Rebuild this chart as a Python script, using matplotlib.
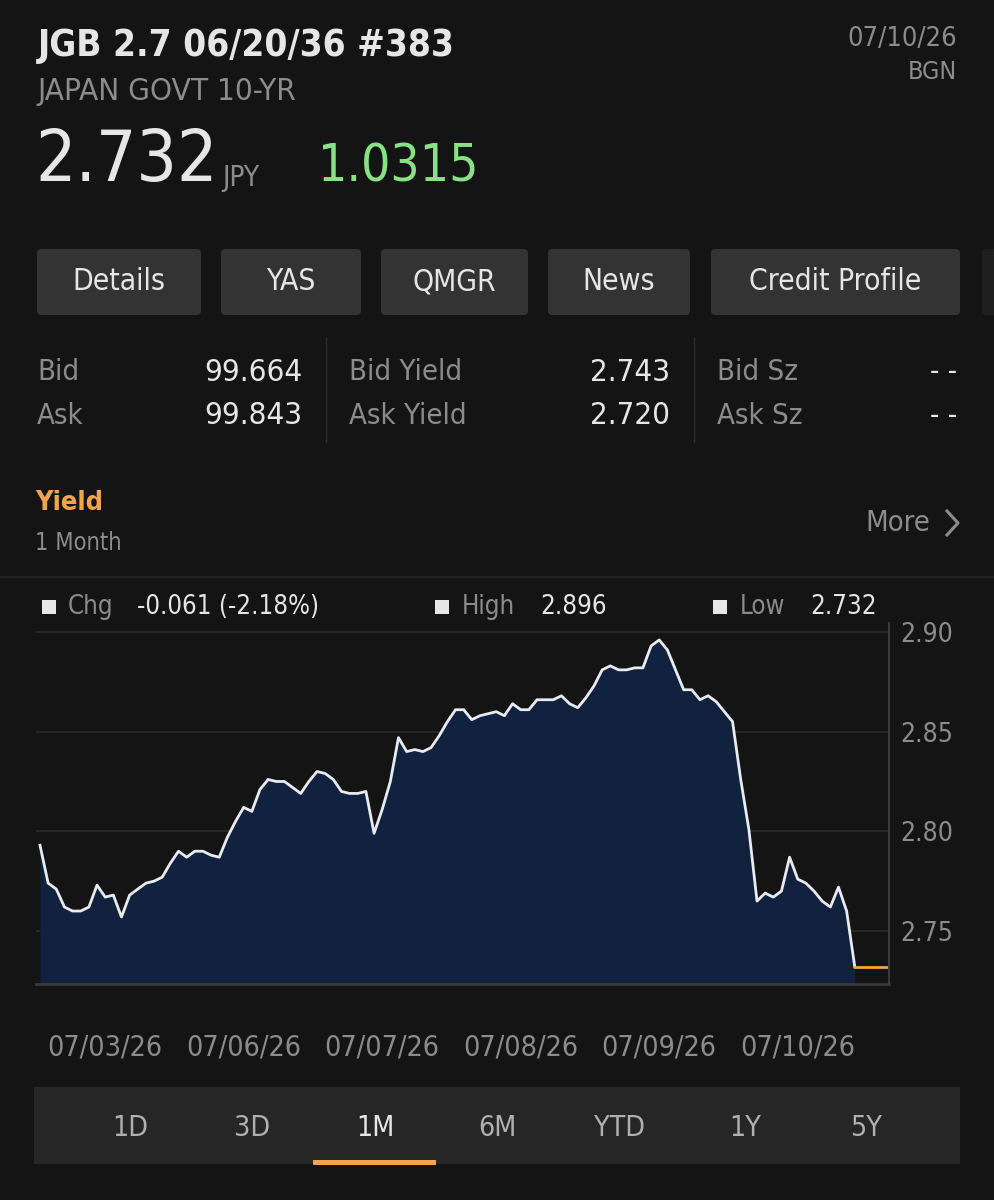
import matplotlib.pyplot as plt
from matplotlib.patches import FancyBboxPatch, Rectangle
import numpy as np

# yield series, 1 month
yields = [2.793, 2.774, 2.771, 2.762, 2.760, 2.760, 2.762, 2.773, 2.767, 2.768,
          2.757, 2.768, 2.771, 2.774, 2.775, 2.777, 2.784, 2.790, 2.787, 2.790,
          2.790, 2.788, 2.787, 2.797, 2.805, 2.812, 2.810, 2.821, 2.826, 2.825,
          2.825, 2.822, 2.819, 2.825, 2.830, 2.829, 2.826, 2.820, 2.819, 2.819,
          2.820, 2.799, 2.811, 2.825, 2.847, 2.840, 2.841, 2.840, 2.842, 2.848,
          2.855, 2.861, 2.861, 2.856, 2.858, 2.859, 2.860, 2.858, 2.864, 2.861,
          2.861, 2.866, 2.866, 2.866, 2.868, 2.864, 2.862, 2.867, 2.873, 2.881,
          2.883, 2.881, 2.881, 2.882, 2.882, 2.893, 2.896, 2.891, 2.881, 2.871,
          2.871, 2.866, 2.868, 2.865, 2.860, 2.855, 2.826, 2.801, 2.765, 2.769,
          2.767, 2.770, 2.787, 2.776, 2.774, 2.770, 2.765, 2.762, 2.772, 2.760,
          2.732]
last_yield = 2.732
date_pos = [8, 25, 42, 59, 76, 93]
date_labels = ["07/03/26", "07/06/26", "07/07/26", "07/08/26", "07/09/26", "07/10/26"]
ytick_vals = [2.75, 2.80, 2.85, 2.90]

buttons = ["Details", "YAS", "QMGR", "News", "Credit Profile"]
periods = ["1D", "3D", "1M", "6M", "YTD", "1Y", "5Y"]

BG = "#141414"
WHITE = "#e6e6e6"
GRAY = "#8c8c8c"
ORANGE = "#f2a44c"
GREEN = "#86e282"
FILL = "#11223f"

plt.rcParams["font.family"] = ["DejaVu Sans"]
plt.rcParams["font.stretch"] = "condensed"

W, H = 995, 1200
fig = plt.figure(figsize=(W / 100, H / 100), dpi=100, facecolor=BG)


def px(x, y):
    return x / W, 1 - y / H


def txt(x, y, s, size, color, ha="left", weight="normal"):
    fig.text(*px(x, y), s, fontsize=size, color=color, ha=ha, va="center",
             fontweight=weight)


def box(x0, y0, x1, y1, color, rounded=True):
    fx, fy = px(x0, y1)
    w, h = (x1 - x0) / W, (y1 - y0) / H
    if rounded:
        p = FancyBboxPatch((fx, fy), w, h, boxstyle="round,pad=0,rounding_size=0.004",
                           transform=fig.transFigure, facecolor=color, edgecolor="none")
    else:
        p = Rectangle((fx, fy), w, h, transform=fig.transFigure, facecolor=color,
                      edgecolor="none")
    fig.patches.append(p)


def hline(x0, x1, y, color, lw=1):
    fig.add_artist(plt.Line2D([x0 / W, x1 / W], [1 - y / H, 1 - y / H],
                              color=color, lw=lw))


def vline(x, y0, y1, color, lw=1):
    fig.add_artist(plt.Line2D([x / W, x / W], [1 - y0 / H, 1 - y1 / H],
                              color=color, lw=lw))


# header
txt(38, 46, "JGB 2.7 06/20/36 #383", 26.5, WHITE, weight="bold")
txt(37, 92, "JAPAN GOVT 10-YR", 22.5, GRAY)
txt(957, 39, "07/10/26", 19.5, GRAY, ha="right")
txt(957, 72, "BGN", 18, GRAY, ha="right")
txt(35, 162, "2.732", 51, WHITE)
txt(222, 178, "JPY", 20, GRAY)
txt(318, 168, "1.0315", 37, GREEN)

# buttons
btn_x = [(37, 201), (221, 361), (381, 528), (548, 690), (711, 960)]
for (x0, x1), name in zip(btn_x, buttons):
    box(x0, 249, x1, 315, "#333333")
    txt((x0 + x1) / 2, 282, name, 21.5, WHITE, ha="center")
box(982, 249, 1000, 315, "#1f1f1f")

# bid / ask table
rows = [("Bid", "99.664", "Bid Yield", "2.743", "Bid Sz", "- -", 372),
        ("Ask", "99.843", "Ask Yield", "2.720", "Ask Sz", "- -", 416)]
for a, b, c, d, e, f, y in rows:
    txt(37, y, a, 21, GRAY)
    txt(302, y, b, 22.5, WHITE, ha="right")
    txt(349, y, c, 21, GRAY)
    txt(670, y, d, 22.5, WHITE, ha="right")
    txt(717, y, e, 21, GRAY)
    txt(957, y, f, 21, WHITE, ha="right")
vline(326, 338, 442, "#2e2e2e")
vline(694, 338, 442, "#2e2e2e")

# section header
txt(35, 503, "Yield", 19.5, ORANGE, weight="bold")
txt(35, 543, "1 Month", 17, GRAY)
txt(930, 523, "More", 21, GRAY, ha="right")
fig.add_artist(plt.Line2D([947 / W, 958 / W, 947 / W],
                          [1 - 511 / H, 1 - 523 / H, 1 - 535 / H],
                          color=GRAY, lw=2.2))
hline(0, W, 577, "#262626", lw=1.2)

# legend row
for sx, lab, lx, val, vx in [(49, "Chg", 68, "-0.061 (-2.18%)", 137),
                             (442, "High", 462, "2.896", 540),
                             (720, "Low", 740, "2.732", 810)]:
    box(sx - 7, 600, sx + 7, 614, WHITE, rounded=False)
    txt(lx, 607, lab, 18.5, GRAY)
    txt(vx, 607, val, 18.5, WHITE)

# chart
ax = fig.add_axes([36 / W, 1 - 984 / H, (889 - 36) / W, (984 - 623) / H])
ax.set_facecolor(BG)
x = np.arange(len(yields))
ax.fill_between(x, yields, 2.70, color=FILL, lw=0)
ax.plot(x, yields, color="#e8ecf2", lw=2)
ax.plot([len(yields) - 1, 104.2], [last_yield, last_yield], color=ORANGE, lw=2)
ax.set_xlim(-0.49, 104.2)
ax.set_ylim(2.7234, 2.9045)
for v in ytick_vals:
    ax.axhline(v, color="#2c2c2c", lw=1.2, zorder=0)
ax.yaxis.tick_right()
ax.set_yticks(ytick_vals)
ax.set_yticklabels([f"{v:.2f}" for v in ytick_vals])
ax.tick_params(axis="y", length=0, pad=8, labelsize=19, labelcolor=GRAY)
ax.set_xticks(date_pos)
ax.set_xticklabels(date_labels)
ax.tick_params(axis="x", length=0, pad=36, labelsize=20.5, labelcolor=GRAY)
for s in ["top", "left"]:
    ax.spines[s].set_visible(False)
ax.spines["right"].set_color("#3a3a3a")
ax.spines["bottom"].set_color("#3a3a3a")
ax.spines["right"].set_linewidth(1.5)
ax.spines["bottom"].set_linewidth(2)

# period selector
box(34, 1087, 960, 1164, "#262626", rounded=False)
per_x = [130, 252, 375, 497, 620, 745, 866]
for p, xx in zip(periods, per_x):
    txt(xx, 1128, p, 20.5, WHITE if p == "1M" else "#b0b0b0", ha="center")
box(313, 1160, 436, 1165, ORANGE, rounded=False)

fig.savefig("out.png", dpi=100, facecolor=BG)
